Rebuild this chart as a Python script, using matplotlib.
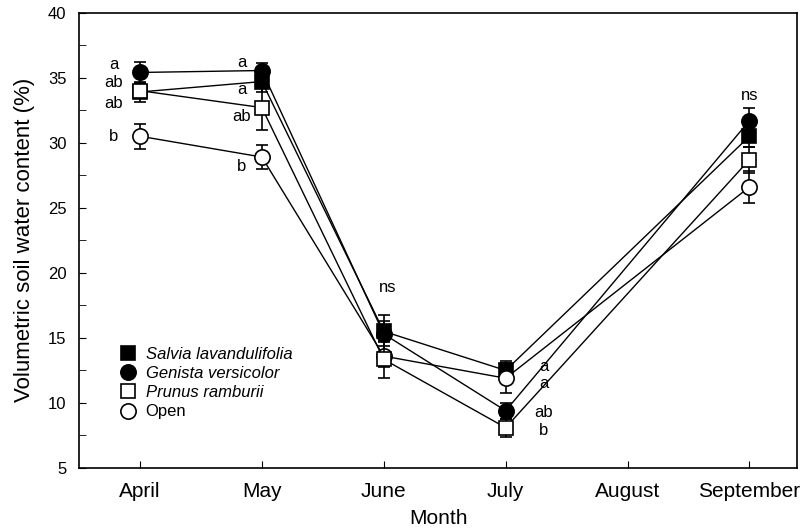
import matplotlib.pyplot as plt
from matplotlib.ticker import MultipleLocator

plt.rcParams['font.family'] = ['Liberation Sans', 'DejaVu Sans']

months = ['April', 'May', 'June', 'July', 'August', 'September']
# sampled months (no August measurement)
x_sampled = [0, 1, 2, 3, 5]

salvia = [33.9, 34.7, 15.5, 12.5, 30.5]
salvia_err = [0.8, 0.8, 0.8, 0.7, 0.8]
genista = [35.4, 35.55, 15.3, 9.4, 31.7]
genista_err = [0.8, 0.6, 1.45, 0.6, 1.0]
prunus = [34.0, 32.7, 13.35, 8.1, 28.7]
prunus_err = [0.6, 1.7, 1.4, 0.7, 1.0]
open_site = [30.5, 28.9, 13.6, 11.9, 26.6]
open_err = [0.95, 0.95, 0.8, 1.15, 1.2]

letters_april = ['a', 'ab', 'ab', 'b']
letters_april_y = [36.0, 34.6, 33.0, 30.5]
letters_may = ['a', 'a', 'ab', 'b']
letters_may_y = [36.15, 34.1, 32.05, 28.2]
letters_july = ['a', 'a', 'ab', 'b']
letters_july_y = [12.8, 11.5, 9.3, 7.9]
ns_labels = [(2.03, 18.9), (5.0, 33.6)]

fig = plt.figure(figsize=(8.05, 5.32), dpi=100)
ax = fig.add_axes([0.0981, 0.1203, 0.892, 0.856])

# drawing order: later series sit on top of earlier ones
series = [
    (genista, genista_err, 'o', 'black', 'Genista versicolor', 1),
    (salvia, salvia_err, 's', 'black', 'Salvia lavandulifolia', 2),
    (open_site, open_err, 'o', 'white', 'Open', 3),
    (prunus, prunus_err, 's', 'white', 'Prunus ramburii', 4),
]
handles = {}
for vals, err, mk, fc, name, z in series:
    h = ax.errorbar(x_sampled, vals, yerr=err, fmt='-', color='black', lw=1.0,
                    marker=mk, markersize=11 if mk == 'o' else 10.5,
                    markerfacecolor=fc, markeredgecolor='black', markeredgewidth=1.2,
                    ecolor='black', elinewidth=1.2, capsize=4, capthick=1.2, zorder=z)
    handles[name] = h

for lab, yy in zip(letters_april, letters_april_y):
    ax.text(-0.213, yy, lab, ha='center', va='center', fontsize=12)
for lab, yy in zip(letters_may, letters_may_y):
    ax.text(0.837, yy, lab, ha='center', va='center', fontsize=12)
for lab, yy in zip(letters_july, letters_july_y):
    ax.text(3.31, yy, lab, ha='center', va='center', fontsize=12)
for xx, yy in ns_labels:
    ax.text(xx, yy, 'ns', ha='center', va='center', fontsize=12)

order = ['Salvia lavandulifolia', 'Genista versicolor', 'Prunus ramburii', 'Open']
leg = ax.legend([handles[n][0] for n in order], order, loc='upper left',
                bbox_to_anchor=(0.058, 0.266), frameon=False, fontsize=12,
                handlelength=0.9, handletextpad=0.6, labelspacing=0.25,
                borderaxespad=0, borderpad=0)
for t in leg.get_texts()[:3]:
    t.set_fontstyle('italic')
for line in leg.get_lines():
    line.set_linestyle('None')

ax.set_xlim(-0.5, 5.39)
ax.set_ylim(5, 40)
ax.set_xticks(range(len(months)))
ax.set_xticklabels(months, fontsize=15)
ax.yaxis.set_major_locator(MultipleLocator(5))
ax.yaxis.set_minor_locator(MultipleLocator(2.5))
ax.tick_params(axis='y', which='both', direction='in', labelsize=12, length=5, pad=9)
ax.tick_params(axis='x', direction='in', length=5, pad=10)
ax.set_xlabel('Month', fontsize=15, labelpad=6)
ax.set_ylabel('Volumetric soil water content (%)', fontsize=16, labelpad=9)
for sp in ax.spines.values():
    sp.set_linewidth(1.2)

fig.savefig('out.png', dpi=100)
